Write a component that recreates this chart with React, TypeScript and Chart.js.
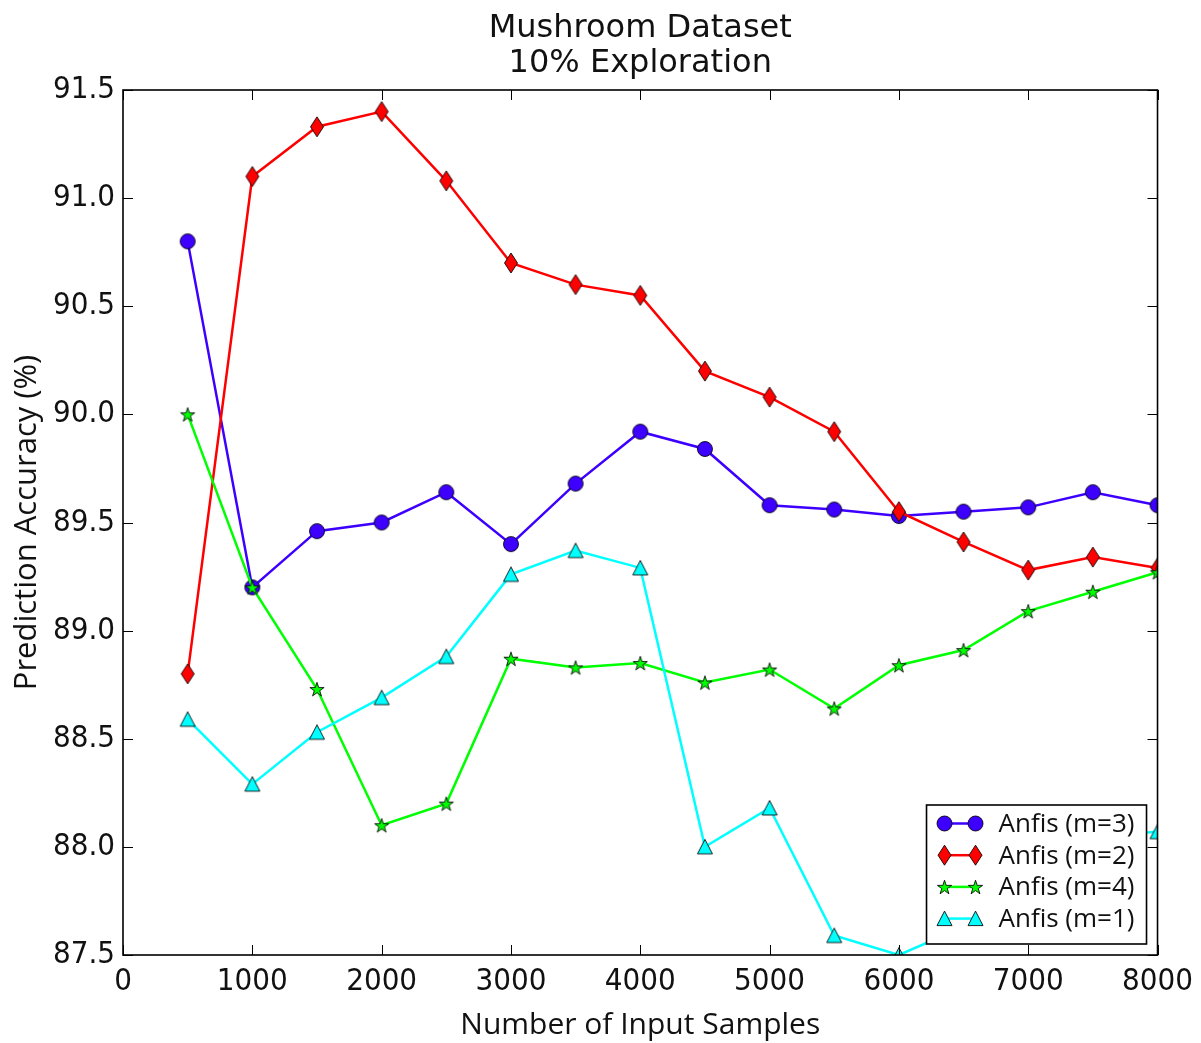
import React, { useEffect, useRef } from "react";
import { Chart, registerables } from "chart.js";

Chart.register(...registerables);

// Number of input samples (x positions)
const sampleCounts = [500, 1000, 1500, 2000, 2500, 3000, 3500, 4000, 4500, 5000, 5500, 6000, 6500, 7000, 7500, 8000];

// Prediction accuracy (%) per model
const accuracyM3 = [90.8, 89.2, 89.46, 89.5, 89.64, 89.4, 89.68, 89.92, 89.84, 89.58, 89.56, 89.53, 89.55, 89.57, 89.64, 89.58];
const accuracyM2 = [88.8, 91.1, 91.33, 91.4, 91.08, 90.7, 90.6, 90.55, 90.2, 90.08, 89.92, 89.55, 89.41, 89.28, 89.34, 89.29];
const accuracyM4 = [90.0, 89.2, 88.73, 88.1, 88.2, 88.87, 88.83, 88.85, 88.76, 88.82, 88.64, 88.84, 88.91, 89.09, 89.18, 89.27];
const accuracyM1 = [88.59, 88.29, 88.53, 88.69, 88.88, 89.26, 89.37, 89.29, 88.0, 88.18, 87.59, 87.5, 87.63, 87.86, 88.05, 88.07];

const seriesLabels = ["Anfis (m=3)", "Anfis (m=2)", "Anfis (m=4)", "Anfis (m=1)"];
const seriesColors = ["#3d00ff", "#ff0000", "#00ff00", "#00ffff"];

const titleLines = ["Mushroom Dataset", "10% Exploration"];
const xAxisTitle = "Number of Input Samples";
const yAxisTitle = "Prediction Accuracy (%)";

const xTicks = { min: 0, max: 8000, step: 1000 };
const yTicks = { min: 87.5, max: 91.5, step: 0.5 };

type MarkerKind = "circle" | "diamond" | "star" | "triangle";

function traceMarker(ctx: CanvasRenderingContext2D, kind: MarkerKind, cx: number, cy: number) {
  ctx.beginPath();
  if (kind === "circle") {
    ctx.arc(cx, cy, 7.5, 0, Math.PI * 2);
  } else if (kind === "diamond") {
    ctx.moveTo(cx, cy - 10);
    ctx.lineTo(cx + 6.5, cy);
    ctx.lineTo(cx, cy + 10);
    ctx.lineTo(cx - 6.5, cy);
    ctx.closePath();
  } else if (kind === "star") {
    const outer = 7.5;
    const inner = outer * 0.382;
    for (let i = 0; i < 10; i++) {
      const r = i % 2 === 0 ? outer : inner;
      const a = -Math.PI / 2 + (i * Math.PI) / 5;
      const px = cx + r * Math.cos(a);
      const py = cy + r * Math.sin(a) + 0.8;
      if (i === 0) ctx.moveTo(px, py);
      else ctx.lineTo(px, py);
    }
    ctx.closePath();
  } else {
    ctx.moveTo(cx, cy - 7.5);
    ctx.lineTo(cx + 7.5, cy + 7);
    ctx.lineTo(cx - 7.5, cy + 7);
    ctx.closePath();
  }
}

function paintMarker(ctx: CanvasRenderingContext2D, kind: MarkerKind, fill: string, cx: number, cy: number) {
  traceMarker(ctx, kind, cx, cy);
  ctx.fillStyle = fill;
  ctx.fill();
  ctx.lineWidth = 1;
  ctx.strokeStyle = "rgba(0,0,0,0.85)";
  ctx.lineJoin = "miter";
  ctx.stroke();
}

function makeMarker(kind: MarkerKind, fill: string): HTMLCanvasElement {
  const c = document.createElement("canvas");
  const w = kind === "diamond" ? 16 : 18;
  const h = kind === "diamond" ? 24 : 18;
  c.width = w;
  c.height = h;
  const ctx = c.getContext("2d")!;
  paintMarker(ctx, kind, fill, w / 2, h / 2);
  return c;
}

const markerKinds: MarkerKind[] = ["circle", "diamond", "star", "triangle"];
const seriesValues = [accuracyM3, accuracyM2, accuracyM4, accuracyM1];

const frameAndLegend = {
  id: "frameAndLegend",
  afterDatasetsDraw(chart: any) {
    const { ctx, chartArea } = chart;
    const { left, right, top, bottom } = chartArea;
    const xs = chart.scales.x;
    const ys = chart.scales.y;
    ctx.save();

    // inward tick marks on all four sides
    ctx.strokeStyle = "#000";
    ctx.lineWidth = 1;
    ctx.beginPath();
    for (let v = xTicks.min; v <= xTicks.max; v += xTicks.step) {
      const x = Math.round(xs.getPixelForValue(v)) + 0.5;
      ctx.moveTo(x, bottom);
      ctx.lineTo(x, bottom - 10);
      ctx.moveTo(x, top);
      ctx.lineTo(x, top + 10);
    }
    for (let v = yTicks.min; v <= yTicks.max + 1e-9; v += yTicks.step) {
      const y = Math.round(ys.getPixelForValue(v)) + 0.5;
      ctx.moveTo(left, y);
      ctx.lineTo(left + 10, y);
      ctx.moveTo(right, y);
      ctx.lineTo(right - 10, y);
    }
    ctx.stroke();

    // axes frame
    ctx.lineWidth = 1.6;
    ctx.strokeRect(left, top, right - left, bottom - top);

    // legend box in the lower right corner
    const boxL = right - 231;
    const boxT = bottom - 150;
    const boxW = 220;
    const boxH = 139;
    ctx.fillStyle = "#fff";
    ctx.fillRect(boxL, boxT, boxW, boxH);
    ctx.lineWidth = 1.6;
    ctx.strokeStyle = "#000";
    ctx.strokeRect(boxL, boxT, boxW, boxH);

    ctx.font = "26px 'Open Sans'";
    ctx.textBaseline = "middle";
    ctx.textAlign = "left";
    seriesLabels.forEach((label, i) => {
      const rowY = boxT + 18.5 + i * 31.7;
      const x0 = boxL + 18;
      const x1 = boxL + 49;
      ctx.strokeStyle = seriesColors[i];
      ctx.lineWidth = 2.5;
      ctx.beginPath();
      ctx.moveTo(x0, rowY);
      ctx.lineTo(x1, rowY);
      ctx.stroke();
      paintMarker(ctx, markerKinds[i], seriesColors[i], x0, rowY);
      paintMarker(ctx, markerKinds[i], seriesColors[i], x1, rowY);
      ctx.fillStyle = "#111";
      ctx.fillText(label, boxL + 72, rowY + 1);
    });

    // titles
    ctx.fillStyle = "#111";
    ctx.textAlign = "center";
    ctx.textBaseline = "alphabetic";
    const cx = (left + right) / 2;
    ctx.font = "32px 'DejaVu Sans'";
    ctx.fillText(titleLines[0], cx, 37);
    ctx.fillText(titleLines[1], cx, 72);

    ctx.font = "30px 'Open Sans'";
    ctx.fillText(xAxisTitle, cx, 1034);

    ctx.save();
    ctx.translate(36, (top + bottom) / 2);
    ctx.rotate(-Math.PI / 2);
    ctx.font = "31px 'Open Sans'";
    ctx.fillText(yAxisTitle, 0, 0);
    ctx.restore();

    ctx.restore();
  },
};

export default function App() {
  const canvasRef = useRef<HTMLCanvasElement | null>(null);

  useEffect(() => {
    if (!canvasRef.current) return;
    const tickFont = { family: "'DejaVu Sans Condensed', 'DejaVu Sans'", size: 31 };
    const chart = new Chart(canvasRef.current, {
      type: "line",
      data: {
        datasets: seriesValues.map((vals, i) => ({
          label: seriesLabels[i],
          data: sampleCounts.map((x, j) => ({ x, y: vals[j] })),
          borderColor: seriesColors[i],
          backgroundColor: seriesColors[i],
          borderWidth: 2.5,
          pointStyle: makeMarker(markerKinds[i], seriesColors[i]) as any,
          pointRadius: 8,
          tension: 0,
          fill: false,
          clip: 0,
          order: 3 - i,
        })),
      },
      options: {
        responsive: false,
        animation: false,
        devicePixelRatio: 1,
        layout: { padding: { left: 0, top: 90, right: 43, bottom: 0 } },
        plugins: {
          legend: { display: false },
          title: { display: false },
          tooltip: { enabled: false },
        },
        events: [],
        scales: {
          x: {
            type: "linear",
            min: xTicks.min,
            max: xTicks.max,
            afterFit: (s: any) => {
              s.height = 88;
            },
            ticks: {
              stepSize: xTicks.step,
              color: "#111",
              font: tickFont,
              padding: 8,
              maxRotation: 0,
              autoSkip: false,
              callback: (v: any) => String(v),
            },
            grid: { display: false, drawTicks: false },
            border: { display: false },
          },
          y: {
            type: "linear",
            min: yTicks.min,
            max: yTicks.max,
            afterFit: (s: any) => {
              s.width = 123;
            },
            ticks: {
              stepSize: yTicks.step,
              color: "#111",
              font: tickFont,
              padding: 8,
              autoSkip: false,
              callback: (v: any) => Number(v).toFixed(1),
            },
            grid: { display: false, drawTicks: false },
            border: { display: false },
          },
        },
      },
      plugins: [frameAndLegend],
    });
    return () => chart.destroy();
  }, []);

  return (
    <div style={{ position: "absolute", left: 0, top: 0, width: 1201, height: 1043, background: "#fff" }}>
      <canvas ref={canvasRef} width={1201} height={1043} style={{ width: 1201, height: 1043, display: "block" }} />
    </div>
  );
}
